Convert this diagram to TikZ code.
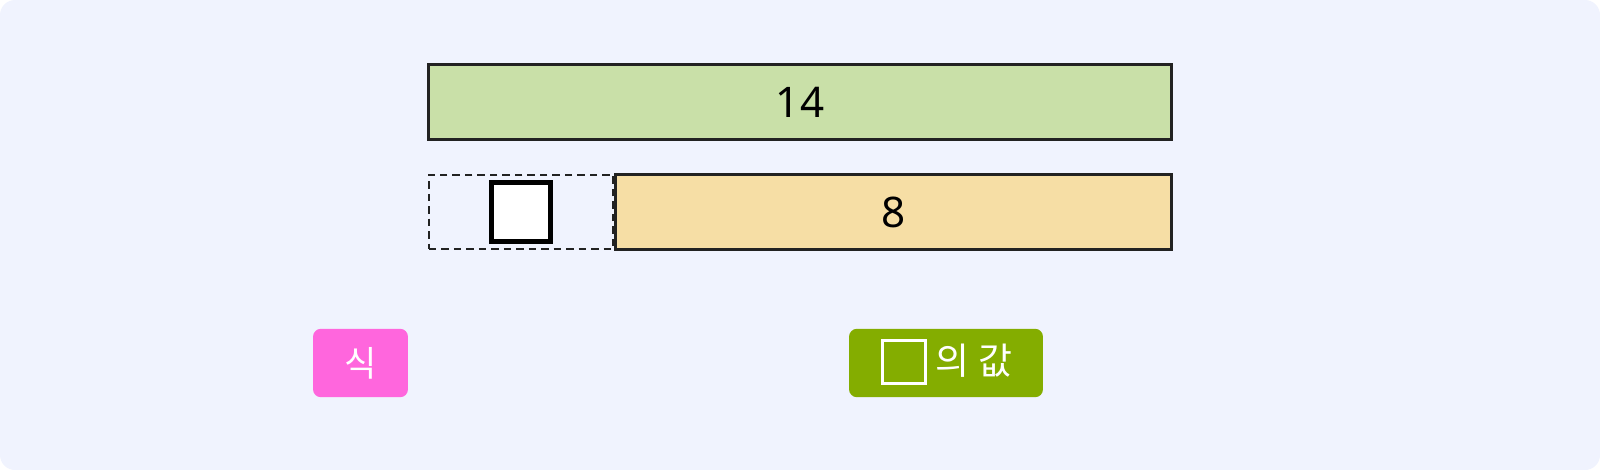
\documentclass[tikz,border=0pt]{standalone}
\usepackage{fontspec}
\setmainfont{Noto Sans CJK KR}
\newfontfamily\digitfont{Noto Sans}
\usetikzlibrary{positioning}
\definecolor{paleBack}{HTML}{F0F3FE}
\definecolor{barGreen}{HTML}{C9E0A8}
\definecolor{barOrange}{HTML}{F6DEA5}
\definecolor{hotPink}{HTML}{FF66DD}
\definecolor{oliveGreen}{HTML}{84AD00}
\definecolor{edgeDark}{HTML}{222222}

\begin{document}
\begin{tikzpicture}[x=0.02cm, y=-0.02cm,
    bar/.style={draw=edgeDark, line width=1.6pt, minimum height=1.5cm, inner sep=0pt, font=\digitfont\fontsize{24}{28}\selectfont},
    btn/.style={rounded corners=0.16cm, minimum height=1.37cm, inner sep=0pt, text=white, font=\fontsize{20}{24}\selectfont}]
        % background
        \fill[paleBack, rounded corners=0.3cm] (0,0) rectangle (1600,470);
        \useasboundingbox (0,0) rectangle (1600,470);

        % bar 14
        \node[bar, fill=barGreen, minimum width=14.86cm] (whole) at (800,102) {14};

        % unknown part and bar 8
        \node[draw=edgeDark, dashed, dash pattern=on 0.15cm off 0.1cm, line width=1.4pt,
              minimum width=3.69cm, minimum height=1.49cm, inner sep=0pt] (part) at (521,212) {};
        \node[draw=black, line width=2.3pt, fill=white, minimum size=1.18cm, inner sep=0pt] (blank) at (part.center) {};
        \node[bar, fill=barOrange, minimum width=11.12cm, minimum height=1.49cm, right=0pt of part] (eight) {8};

        % buttons
        \node[btn, fill=hotPink, minimum width=1.9cm] (sik) at (360.5,363) {식};
        \node[btn, fill=oliveGreen, minimum width=3.88cm] (value) at (946,363) {};
        \node[draw=white, line width=1.7pt, minimum size=0.86cm, inner sep=0pt] (vbox) at (904,362) {};
        \node[text=white, font=\fontsize{21}{24}\selectfont, inner sep=0pt] (vtext) at (974,361) {의 값};
\end{tikzpicture}
\end{document}
